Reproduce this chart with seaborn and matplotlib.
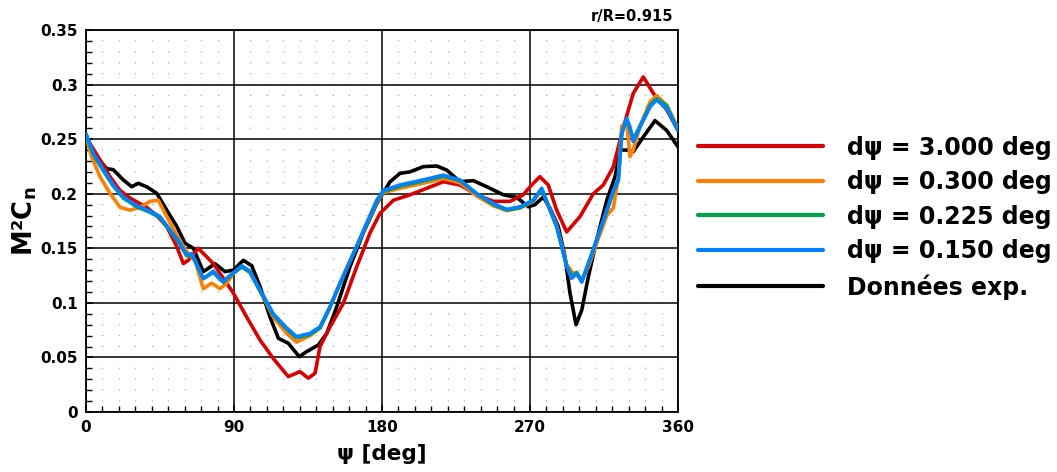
import numpy as np
import pandas as pd
import matplotlib
matplotlib.use("Agg")
import matplotlib.pyplot as plt
from matplotlib.ticker import MultipleLocator, FuncFormatter
import seaborn as sns

# ---------------- data ----------------
labels = ["dψ = 3.000 deg", "dψ = 0.300 deg", "dψ = 0.225 deg",
          "dψ = 0.150 deg", "Données exp."]
colors = ["#d40000", "#ff8000", "#00a050", "#0080ff", "#000000"]

psi_red = [0, 8.5, 14.6, 20.7, 26.8, 36.9, 43, 49.1, 55.2, 59.2, 62.2, 68.3,
           77.4, 89.6, 97.7, 105.8, 113.9, 123, 130.1, 135.2, 139.3, 142.3,
           148.4, 156.5, 164.6, 172.7, 178.8, 186.9, 197, 207.2, 217.3, 227.4,
           237.6, 247.7, 257.8, 265.9, 271, 276, 281.1, 286.2, 292.3, 300.4,
           308.5, 314.6, 320.7, 326.8, 332.8, 338.9, 345, 353.1, 360]
val_red = [0.252, 0.231, 0.2156, 0.203, 0.196, 0.1875, 0.180, 0.170, 0.1515,
           0.136, 0.139, 0.150, 0.136, 0.109, 0.087, 0.066, 0.049, 0.0324,
           0.037, 0.031, 0.0355, 0.060, 0.078, 0.0996, 0.133, 0.164, 0.182,
           0.194, 0.199, 0.205, 0.211, 0.208, 0.199, 0.193, 0.193, 0.199,
           0.208, 0.2156, 0.208, 0.185, 0.165, 0.179, 0.200, 0.208, 0.2248,
           0.261, 0.292, 0.307, 0.292, 0.277, 0.258]

psi_orange = [0, 3.4, 8.5, 14.6, 20.7, 26.8, 32.8, 38.9, 44, 49.1, 55.2, 61.2,
              66.3, 71.3, 76.4, 81.5, 85.6, 89.6, 94.7, 99.7, 105.8, 113.9,
              122, 128.1, 136.2, 142.3, 148.4, 154.5, 162.6, 170.7, 176.8,
              180.8, 191, 203.1, 217.3, 227.4, 237.6, 247.7, 255.8, 263.9,
              272, 277.1, 282.2, 286.2, 289.3, 292.3, 295.4, 299.4, 301.5,
              305.5, 310.6, 316.7, 320.7, 323.7, 325.8, 328.8, 330.8, 332.8,
              336.9, 343, 347, 353.1, 360]
val_orange = [0.252, 0.234, 0.2156, 0.2004, 0.1875, 0.185, 0.1875, 0.193,
              0.194, 0.179, 0.162, 0.147, 0.139, 0.113, 0.118, 0.113, 0.118,
              0.127, 0.133, 0.128, 0.111, 0.087, 0.072, 0.064, 0.070, 0.077,
              0.096, 0.118, 0.145, 0.172, 0.192, 0.201, 0.205, 0.209, 0.214,
              0.210, 0.198, 0.189, 0.1845, 0.187, 0.193, 0.204, 0.186, 0.171,
              0.153, 0.135, 0.1286, 0.124, 0.121, 0.133, 0.155, 0.180, 0.187,
              0.215, 0.262, 0.266, 0.234, 0.240, 0.262, 0.284, 0.290, 0.281,
              0.260]

psi_green = [0, 4.5, 10.5, 16.6, 22.7, 30.8, 38.9, 45, 51, 57, 61.2, 64.3,
             67.3, 71.3, 74.4, 77.4, 80.5, 83.5, 86.6, 89.6, 94.7, 99.7,
             105.8, 113.9, 122, 128.1, 136.2, 142.3, 148.4, 154.5, 162.6,
             170.7, 176.8, 180.8, 191, 203.1, 217.3, 227.4, 237.6, 247.7,
             255.8, 263.9, 272, 277.1, 282.2, 286.2, 289.3, 292.3, 295.4,
             298.4, 301.5, 305.5, 310.6, 316.7, 320.7, 323.7, 325.8, 328.8,
             330.8, 332.8, 336.9, 343, 347, 353.1, 360]
val_green = [0.253, 0.236, 0.221, 0.207, 0.196, 0.188, 0.183, 0.178, 0.166,
             0.154, 0.143, 0.144, 0.135, 0.122, 0.125, 0.128, 0.123, 0.119,
             0.123, 0.127, 0.133, 0.128, 0.111, 0.089, 0.076, 0.068, 0.071,
             0.077, 0.096, 0.118, 0.145, 0.172, 0.193, 0.202, 0.207, 0.211,
             0.216, 0.212, 0.200, 0.190, 0.185, 0.187, 0.194, 0.204, 0.185,
             0.170, 0.152, 0.134, 0.124, 0.128, 0.120, 0.136, 0.158, 0.184,
             0.202, 0.212, 0.256, 0.268, 0.259, 0.250, 0.262, 0.281, 0.287,
             0.281, 0.258]

psi_blue = [0, 4.5, 10.5, 16.6, 22.7, 30.8, 38.9, 45, 51, 57, 61.2, 64.3,
            67.3, 71.3, 74.4, 77.4, 80.5, 83.5, 86.6, 89.6, 94.7, 99.7,
            105.8, 113.9, 122, 128.1, 136.2, 142.3, 148.4, 154.5, 162.6,
            170.7, 176.8, 180.8, 191, 203.1, 217.3, 227.4, 237.6, 247.7,
            255.8, 263.9, 272, 277.1, 282.2, 286.2, 289.3, 292.3, 295.4,
            298.4, 301.5, 305.5, 310.6, 316.7, 320.7, 323.7, 325.8, 328.8,
            330.8, 332.8, 336.9, 343, 347, 353.1, 360]
val_blue = [0.255, 0.237, 0.222, 0.208, 0.197, 0.189, 0.184, 0.179, 0.167,
            0.155, 0.144, 0.145, 0.136, 0.1225, 0.1255, 0.129, 0.124, 0.119,
            0.124, 0.1275, 0.134, 0.129, 0.112, 0.090, 0.077, 0.069, 0.072,
            0.078, 0.0965, 0.118, 0.145, 0.173, 0.194, 0.203, 0.208, 0.212,
            0.217, 0.2126, 0.200, 0.191, 0.1857, 0.188, 0.194, 0.205, 0.185,
            0.170, 0.1515, 0.133, 0.1225, 0.127, 0.119, 0.136, 0.158, 0.185,
            0.203, 0.2126, 0.255, 0.269, 0.261, 0.2477, 0.261, 0.2797, 0.286,
            0.278, 0.258]

psi_exp = [0, 4.5, 12.6, 16.6, 22.7, 27.8, 31.8, 36.9, 43, 49.1, 55.2, 60.2,
           65.3, 71.3, 74.4, 78.4, 84.5, 89.6, 95.7, 100.8, 105.8, 111.9, 117,
           123, 129.7, 134.2, 141.3, 146.4, 152.5, 160.5, 168.6, 176.8, 184.9,
           191, 197, 205.1, 213.3, 219.3, 227.4, 235.5, 243.7, 253.8, 261.9,
           269, 273, 278.1, 282.2, 287.2, 291.3, 294.3, 298, 301.5, 305.5,
           310.6, 316.7, 321.7, 324.8, 329.8, 332.8, 338.9, 346, 353.1, 360]
val_exp = [0.254, 0.237, 0.223, 0.222, 0.2126, 0.2064, 0.2095, 0.2064, 0.2004,
           0.185, 0.170, 0.1546, 0.150, 0.1286, 0.1316, 0.136, 0.1286, 0.130,
           0.139, 0.134, 0.115, 0.087, 0.0675, 0.063, 0.0507, 0.0553, 0.0614,
           0.072, 0.0965, 0.133, 0.164, 0.191, 0.211, 0.2187, 0.220, 0.2248,
           0.2254, 0.2217, 0.211, 0.212, 0.2064, 0.199, 0.1967, 0.188, 0.190,
           0.197, 0.1866, 0.170, 0.142, 0.109, 0.080, 0.0935, 0.124, 0.158,
           0.194, 0.2156, 0.240, 0.240, 0.2385, 0.252, 0.267, 0.258, 0.243]

x_ticks = [0, 90, 180, 270, 360]
y_ticks = [0, 0.05, 0.1, 0.15, 0.2, 0.25, 0.3, 0.35]
station_label = "r/R=0.915"

# ---------------- style ----------------
sns.set_style("white")
plt.rcParams["font.family"] = ["DejaVu Sans"]
plt.rcParams["font.weight"] = "bold"
plt.rcParams["mathtext.default"] = "regular"
plt.rcParams["lines.scale_dashes"] = False
for key in ["text.color", "axes.labelcolor", "xtick.color", "ytick.color"]:
    plt.rcParams[key] = "black"

fig = plt.figure(figsize=(10.57, 4.72), dpi=100)
ax = fig.add_axes([86 / 1057, 60 / 472, 592 / 1057, 382 / 472])

series = [(psi_exp, val_exp, 4), (psi_red, val_red, 0), (psi_orange, val_orange, 1),
          (psi_green, val_green, 2), (psi_blue, val_blue, 3)]
handles = {}
for psi, val, i in series:
    df = pd.DataFrame({"psi": psi, "val": val})
    sns.lineplot(data=df, x="psi", y="val", color=colors[i], linewidth=2.6,
                 sort=False, estimator=None, ax=ax, label=labels[i], zorder=3)
    handles[i] = ax.lines[-1]

ax.set_xlim(0, 360)
ax.set_ylim(0, 0.35)
ax.set_xticks(x_ticks)
ax.set_yticks(y_ticks)
ax.yaxis.set_major_formatter(FuncFormatter(lambda v, p: f"{v:g}"))
ax.xaxis.set_minor_locator(MultipleLocator(10))
ax.yaxis.set_minor_locator(MultipleLocator(0.01))

ax.grid(which="major", color="black", linewidth=1.1, zorder=1)
ax.grid(which="minor", axis="x", color="#a8a8a8", linewidth=1.0,
        linestyle=(0, (0.8, 10.914 * 0.72 - 0.8)))
ax.set_axisbelow(True)
for s in ax.spines.values():
    s.set_color("black")
    s.set_linewidth(1.3)

ax.tick_params(which="both", direction="in", top=False, right=False,
               bottom=True, left=True, color="black")
ax.tick_params(which="major", length=5, width=1.1, labelsize=11, pad=6,
               labelcolor="black")
ax.tick_params(which="minor", length=4, width=1.0)
for lab in ax.get_xticklabels() + ax.get_yticklabels():
    lab.set_fontweight("bold")

ax.set_xlabel("ψ [deg]", fontsize=15.5, fontweight="bold", labelpad=6,
              color="black")
ax.set_ylabel("M²C$_{n}$", fontsize=18.5, fontweight="bold", labelpad=1,
              color="black")

ax.text(1.0 - 5 / 592, 1.015, station_label, transform=ax.transAxes, ha="right",
        va="bottom", fontsize=10.5, fontweight="bold", color="black")

leg = ax.legend(handles=[handles[i] for i in range(5)], labels=labels,
                loc="center left", bbox_to_anchor=(698 / 1057, 1 - 217.5 / 472),
                bbox_transform=fig.transFigure, frameon=False, fontsize=17,
                handlelength=5.3, handletextpad=1.0, labelspacing=0.45,
                borderpad=0, borderaxespad=0)
for t in leg.get_texts():
    t.set_fontweight("bold")
    t.set_color("black")
for l in leg.get_lines():
    l.set_linewidth(3.0)

fig.savefig("out.png", dpi=100)
